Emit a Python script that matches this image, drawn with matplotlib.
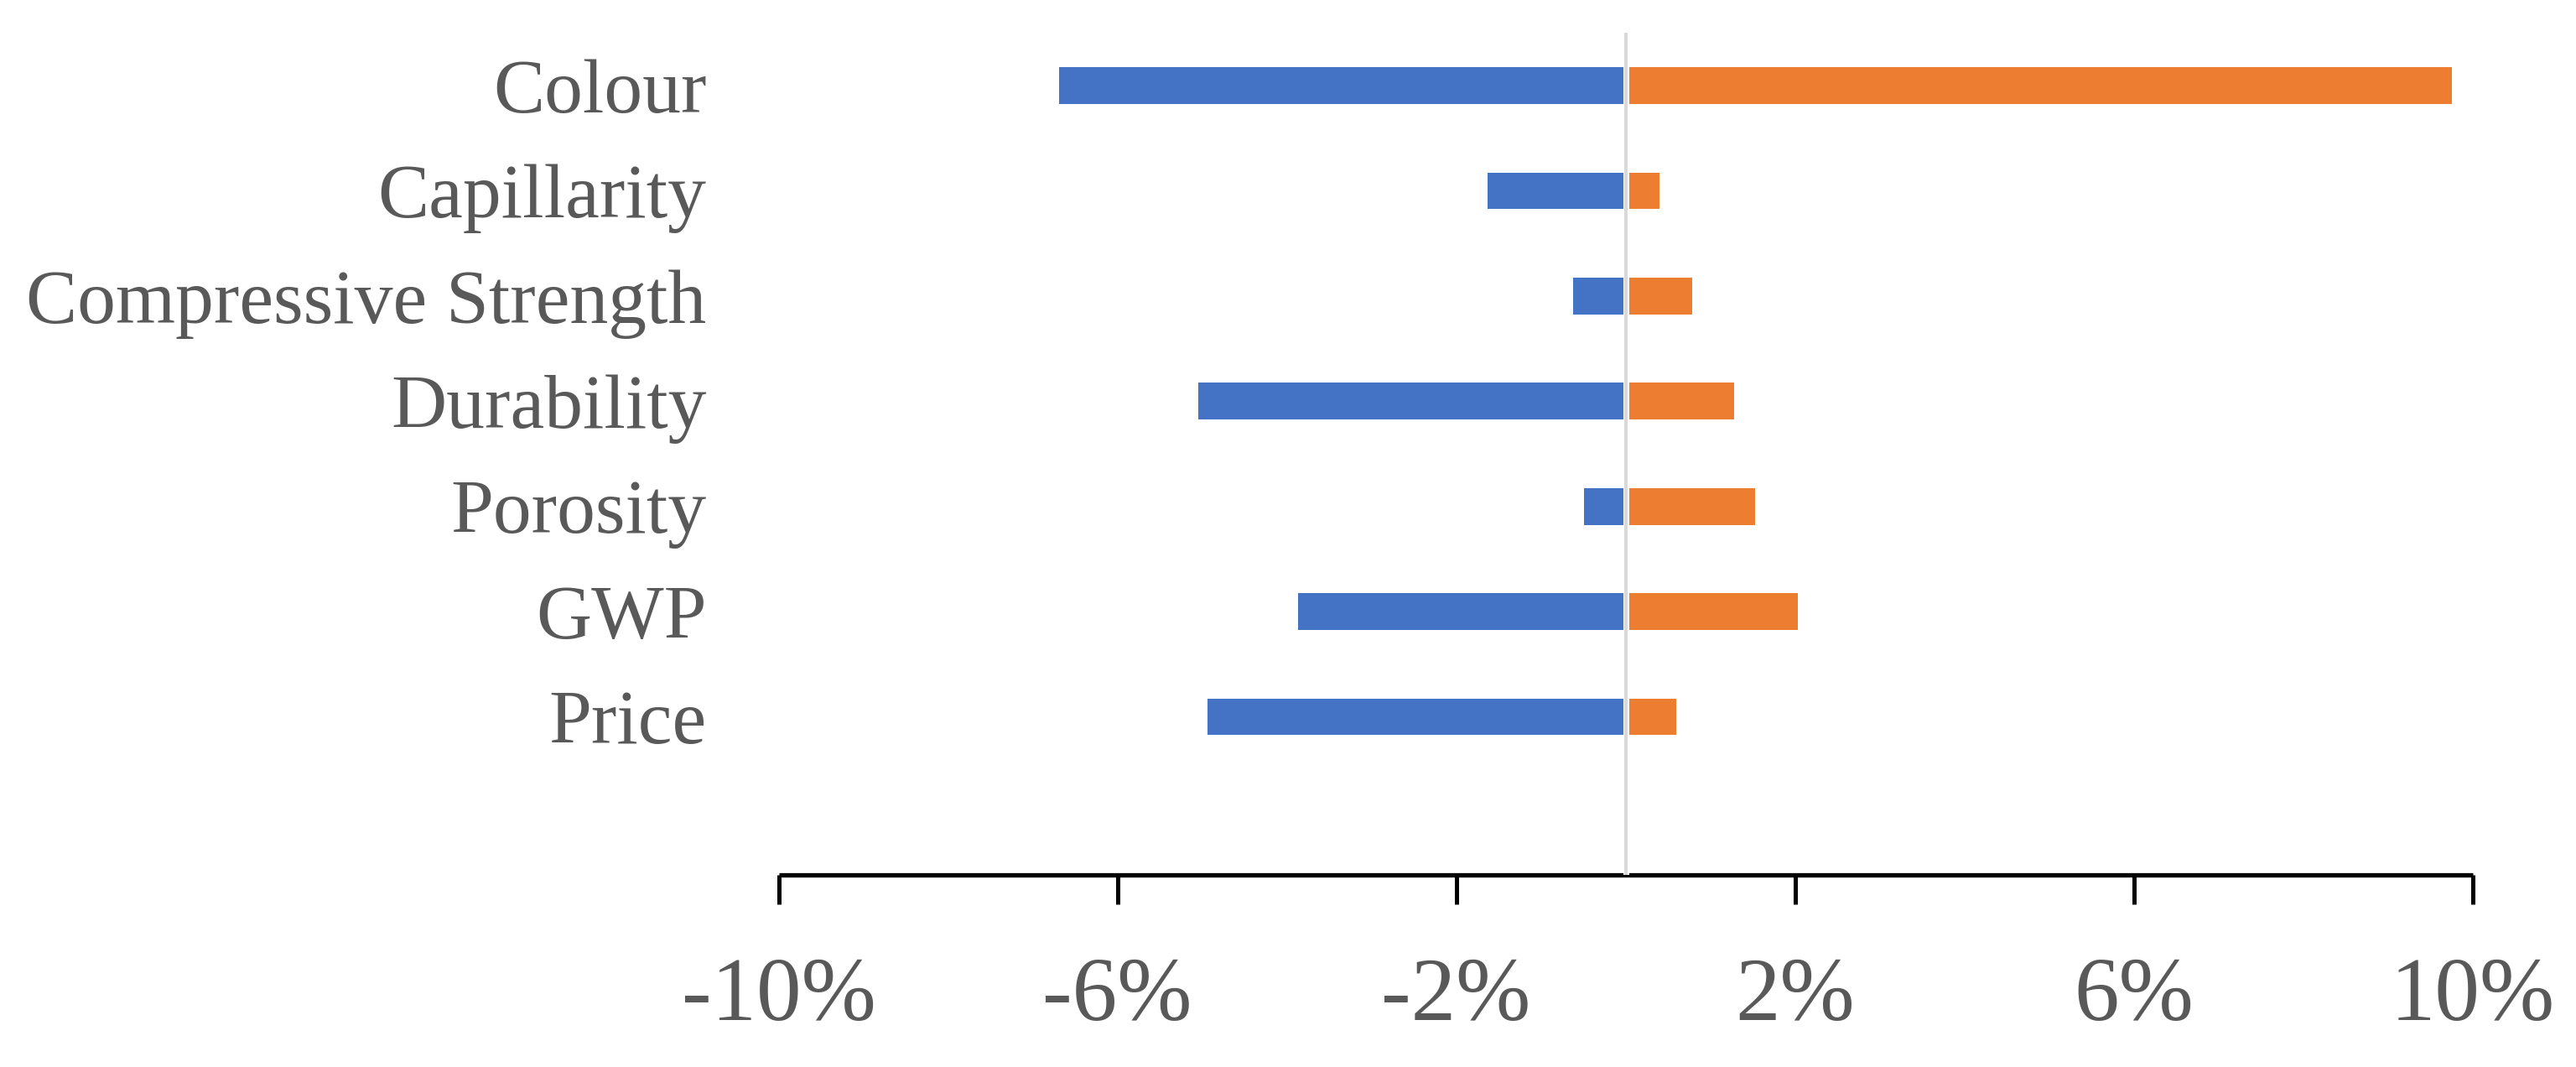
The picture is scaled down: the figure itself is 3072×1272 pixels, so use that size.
import matplotlib
matplotlib.use("Agg")
import matplotlib.pyplot as plt
import numpy as np
from matplotlib.ticker import FuncFormatter

categories = ["Colour", "Capillarity", "Compressive Strength", "Durability",
              "Porosity", "GWP", "Price"]
low_values = [-6.69, -1.63, -0.62, -5.05, -0.49, -3.87, -4.94]
high_values = [9.76, 0.40, 0.79, 1.28, 1.53, 2.03, 0.60]
x_ticks = [-10, -6, -2, 2, 6, 10]

plt.rcParams['font.family'] = ['Liberation Serif', 'DejaVu Serif']
text_color = '#595959'

fig = plt.figure(figsize=(30.72, 12.72), dpi=100)
ax = fig.add_axes([0.3023, 0.1803, 0.9598 - 0.3023, 0.969 - 0.1803])

y = np.arange(len(categories))
ax.barh(y, low_values, height=0.35, color='#4472C4', zorder=2)
ax.barh(y, high_values, height=0.35, color='#ED7D31', zorder=2)
ax.axvline(0, color='white', linewidth=5, zorder=3)
ax.axvline(0, color='#d9d9d9', linewidth=3, zorder=4)

ax.set_xlim(-10, 10)
ax.set_ylim(len(categories) + 0.5, -0.5)
ax.set_yticks(y)
ax.set_yticklabels(categories)
ax.set_xticks(x_ticks)
ax.xaxis.set_major_formatter(FuncFormatter(lambda v, p: f"{int(round(v))}%"))

for s in ['top', 'right', 'left']:
    ax.spines[s].set_visible(False)
ax.spines['bottom'].set_linewidth(3.8)
ax.spines['bottom'].set_color('black')
ax.spines['bottom'].set_capstyle('butt')

ax.tick_params(axis='y', length=0, pad=62, labelsize=66, labelcolor=text_color)
ax.tick_params(axis='x', length=25, width=3.6, color='black', pad=46,
               labelsize=77, labelcolor=text_color)

fig.savefig("out.png", dpi=100, facecolor='white')
